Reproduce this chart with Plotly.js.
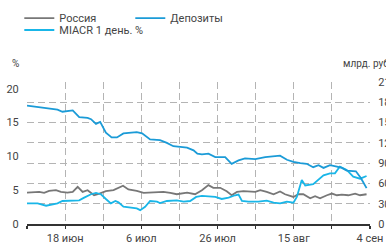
<!DOCTYPE html>
<html>
<head>
<meta charset="utf-8">
<script src="https://cdn.plot.ly/plotly-3.0.1.min.js"></script>
<style>html,body{margin:0;padding:0;background:#fff;}#chart{width:386px;height:246px;}</style>
</head>
<body>
<div id="chart"></div>
<script>
// X positions are day offsets from the left edge of the axis (8 June)
var tickVals = [0, 10, 20, 30, 40, 50, 60, 70, 80, 90];
var tickText = ["", "18 июн", "", "6 июл", "", "26 июл", "", "15 авг", "", "4 сен"];

// Россия, %
var russiaX = [0, 1.9, 3.2, 4.5, 5.8, 7.6, 8.9, 10.6, 12, 13.3, 14.6, 15.9, 17.6, 19, 20.7, 22.7, 23.6, 25.2, 26.6, 28.8, 30.6, 33.2, 35.8, 37.6, 39.3, 42, 44.1, 45.9, 47.6, 48.9, 50.7, 52.4, 53.7, 55.1, 56.8, 59.9, 61.2, 62.9, 64.7, 66.4, 67.7, 69.9, 71.2, 72.5, 74.3, 75.6, 76.9, 78.7, 80, 81.3, 82.6, 84.3, 86.1, 87.4, 89.1];
var russiaY = [4.65, 4.65, 4.75, 4.6, 4.9, 5.0, 4.75, 4.65, 4.75, 5.5, 4.75, 5.0, 4.25, 4.5, 4.85, 5.0, 5.25, 5.65, 5.1, 4.9, 4.6, 4.65, 4.75, 4.6, 4.4, 4.65, 4.4, 5.0, 5.75, 5.35, 5.35, 4.85, 4.25, 4.75, 4.85, 4.75, 5.0, 4.75, 4.4, 4.8, 4.4, 4.0, 4.4, 4.4, 3.8, 4.1, 3.8, 4.25, 4.5, 4.25, 4.35, 4.25, 4.5, 4.25, 4.4];

// Депозиты, млрд. руб
var depoX = [0, 4.5, 8, 9.3, 12, 13.7, 15.9, 16.8, 18.1, 19.2, 20.7, 22.2, 23.6, 25.3, 27.1, 28.8, 30.2, 32.3, 34.9, 36.7, 38.4, 39.7, 42, 43.7, 44.7, 45.9, 47.6, 49.4, 52, 53.7, 55.5, 57.2, 59.9, 62.5, 64.7, 66.4, 68.2, 69.9, 71.7, 73.4, 75.1, 76.5, 77.8, 79.5, 81.3, 82.6, 83.9, 86.3, 87.6, 89.1];
var depoY = [175, 172, 169, 166, 168, 158, 157, 155, 148, 151, 135, 128, 128, 134, 135, 136, 134, 125, 124, 120, 115, 114, 113, 109, 104, 103, 104, 99, 99, 89, 94, 97, 96, 99, 100, 101, 95, 92, 90, 89, 84, 87, 83, 87, 85, 83, 79, 78, 68, 53];

// MIACR 1 день, %
var miacrX = [0, 2.8, 5, 6.3, 8, 9.3, 11.5, 13.7, 15, 16.8, 18.1, 19.4, 20.7, 22, 23.2, 24, 25.3, 27.1, 28.8, 29.7, 31, 32.3, 34.1, 34.9, 36.7, 39.3, 41.1, 42.8, 44.4, 45.9, 48.1, 49.4, 51.1, 52.9, 54.6, 55.5, 56.4, 58.1, 60.7, 62.9, 64.7, 66.4, 68.2, 69.9, 70.8, 72.1, 73, 75.1, 77.8, 79.5, 80.8, 82.1, 83.9, 85.6, 87.4, 89.1];
var miacrY = [3.05, 3.05, 2.7, 2.9, 3.05, 3.4, 3.5, 3.5, 3.9, 4.4, 4.6, 4.4, 3.7, 3.05, 3.4, 3.2, 2.55, 2.4, 2.3, 2.05, 2.55, 3.4, 3.3, 3.1, 3.4, 3.5, 3.3, 3.4, 4.0, 4.15, 4.1, 4.0, 3.7, 3.9, 4.25, 4.35, 3.4, 3.3, 3.3, 3.45, 3.15, 3.05, 3.3, 3.15, 4.0, 6.5, 5.7, 5.9, 7.2, 7.5, 7.5, 8.5, 8.0, 7.0, 6.7, 7.1];

var leftTicks = [0, 5, 10, 15, 20];
var rightTicks = [0, 30, 60, 90, 120, 150, 180, 210];

var FONT = "Roboto, 'Liberation Sans', sans-serif";
var gridColor = "#b4b4b4";

var traces = [
  {x: russiaX, y: russiaY, name: "Россия", type: "scatter", mode: "lines",
   line: {color: "#777777", width: 1.8}, yaxis: "y", legend: "legend"},
  {x: depoX, y: depoY, name: "Депозиты", type: "scatter", mode: "lines",
   line: {color: "#1b9bd7", width: 1.8}, yaxis: "y2", legend: "legend"},
  {x: miacrX, y: miacrY, name: "MIACR 1 день. %", type: "scatter", mode: "lines",
   line: {color: "#19b6e8", width: 1.8}, yaxis: "y", legend: "legend2"}
];

var legendFont = {family: FONT, size: 11, color: "#444"};

var layout = {
  width: 386, height: 246,
  margin: {l: 27, r: 16, t: 82, b: 22, pad: 0},
  paper_bgcolor: "#fff", plot_bgcolor: "#fff",
  font: {family: FONT, size: 11, color: "#444"},
  showlegend: true,
  legend: {
    orientation: "h", xref: "container", yref: "container",
    x: 0.05, y: 0.985, xanchor: "left", yanchor: "top",
    entrywidth: 66, entrywidthmode: "pixels",
    font: legendFont, bgcolor: "rgba(0,0,0,0)"
  },
  legend2: {
    orientation: "h", xref: "container", yref: "container",
    x: 0.05, y: 0.937, xanchor: "left", yanchor: "top",
    font: legendFont, bgcolor: "rgba(0,0,0,0)"
  },
  xaxis: {
    range: [0, 90], tickvals: tickVals, ticktext: tickText,
    showgrid: true, gridcolor: gridColor, griddash: "7px,4px", gridwidth: 1,
    showline: true, linecolor: "#333", linewidth: 1.5,
    ticks: "outside", ticklen: 3, tickcolor: "#333", tickwidth: 1.2,
    zeroline: false, automargin: false,
    tickfont: {family: FONT, size: 11, color: "#444"}
  },
  yaxis: {
    range: [0, 21], tickvals: leftTicks, showgrid: false, zeroline: false,
    ticks: "outside", ticklen: 5, tickcolor: "rgba(0,0,0,0)",
    automargin: false, tickfont: {family: FONT, size: 11, color: "#444"}
  },
  yaxis2: {
    range: [0, 210], tickvals: rightTicks, overlaying: "y", side: "right",
    showgrid: true, gridcolor: gridColor, griddash: "7px,4px", gridwidth: 1,
    zeroline: false, ticks: "outside", ticklen: 5, tickcolor: "rgba(0,0,0,0)",
    automargin: false, tickfont: {family: FONT, size: 11, color: "#444"}
  },
  annotations: [
    {text: "%", xref: "paper", yref: "paper", x: -0.034, y: 1.13,
     xanchor: "center", yanchor: "middle", showarrow: false,
     font: {family: FONT, size: 10, color: "#444"}},
    {text: "млрд. руб", xref: "paper", yref: "paper", x: 0.915, y: 1.13,
     xanchor: "left", yanchor: "middle", showarrow: false,
     font: {family: FONT, size: 10, color: "#444"}}
  ]
};

Plotly.newPlot("chart", traces, layout, {displayModeBar: false, staticPlot: true});
</script>
</body>
</html>
